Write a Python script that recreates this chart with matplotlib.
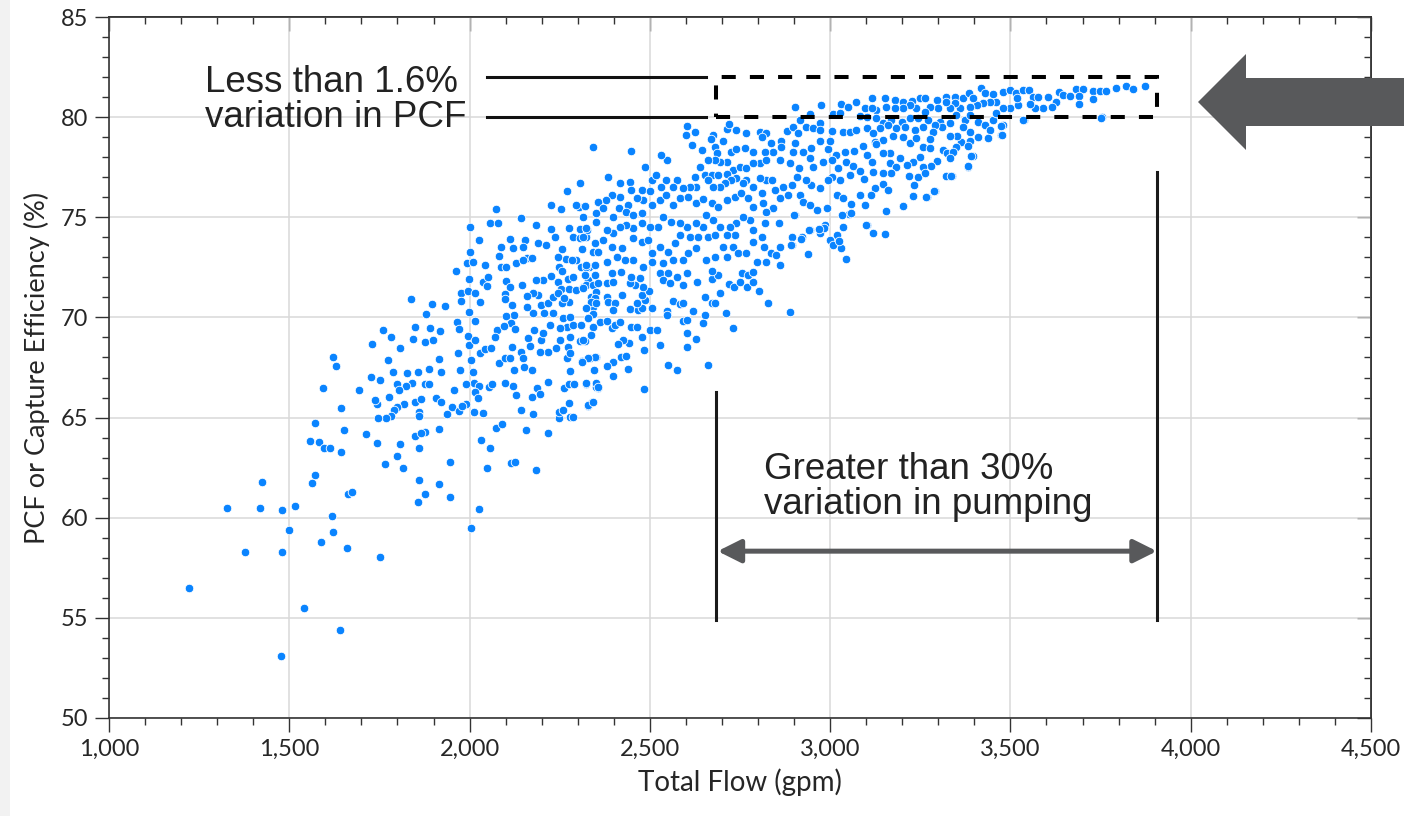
import matplotlib
matplotlib.use('Agg')
import matplotlib.pyplot as plt
from matplotlib.ticker import MultipleLocator, FuncFormatter, NullFormatter
from matplotlib.patches import Rectangle, Polygon, FancyArrowPatch


# scatter points (total flow in gpm, PCF in %)

#low left tail
flow_a = [1222, 1326, 1420, 1424, 1481, 1517, 1378, 1480, 1498, 1540, 1640, 1478, 1619, 1621, 1588,
          1661, 1751, 2003, 2027, 1571, 1562, 1663, 1673, 1557, 1583, 1596, 1612, 1644, 1653, 1571,
          1594, 1643, 1694, 1714, 1742, 1766, 1800, 1814, 1807, 1859, 1877, 1856, 1860, 1849, 1876,
          1864, 1915, 1915, 1946, 1946, 2032, 2057, 2048, 2074, 2089, 2115, 2127, 2157, 2185, 2217,
          2176, 2143, 2248, 2248, 2259, 2278, 2287, 2277, 2328, 2340, 2186, 2195, 2173, 2130, 2121,
          2097, 2053, 2062, 2013, 2027, 2016, 2024, 2038, 2013, 1989, 1991, 1957, 1950, 1938, 1970,
          1979, 1907, 1920, 1840, 1824, 1800, 1803, 1818, 1800, 1790, 1782, 1767, 1746, 1777, 1742,
          1738, 1849, 1864, 1860, 1860, 1877, 1888, 2218, 2261, 2276, 2291, 2322, 2351, 2356]
pcf_a = [56.5, 60.5, 60.5, 61.8, 60.4, 60.6, 58.3, 58.3, 59.4, 55.5, 54.4, 53.1, 60.1, 59.3, 58.8,
         58.5, 58.05, 59.5, 60.45, 62.15, 61.75, 61.2, 61.3, 63.85, 63.8, 63.5, 63.5, 63.3, 64.4, 64.75,
         66.5, 65.5, 66.4, 64.2, 63.75, 62.7, 63.1, 62.5, 63.7, 61.9, 61.2, 60.8, 63.5, 64.1, 64.3,
         64.25, 64.45, 61.7, 61.05, 62.8, 63.9, 63.5, 62.5, 64.5, 64.7, 62.75, 62.8, 64.4, 62.4, 64.25,
         65.2, 65.4, 65.0, 65.3, 65.4, 65.05, 65.05, 65.75, 65.6, 65.8, 66.5, 66.2, 66.05, 66.15, 66.6,
         66.75, 66.55, 66.7, 66.75, 66.6, 66.3, 66.0, 65.25, 65.3, 66.7, 65.7, 66.4, 65.55, 65.2, 65.35,
         65.6, 66.0, 65.8, 66.75, 66.6, 66.7, 66.4, 65.7, 65.55, 65.4, 65.1, 65.0, 65.0, 66.05, 65.7,
         65.9, 65.8, 65.95, 65.3, 65.1, 66.7, 66.7, 66.8, 66.5, 66.7, 66.7, 66.7, 66.7, 66.5]

#middle left
flow_b = [1622, 1629, 1729, 1759, 1783, 1775, 1728, 1751, 1788, 1808, 1826, 1858, 1837, 1843, 1849,
          1876, 1880, 1896, 1899, 1890, 1919, 1931, 1916, 1887, 1921, 1962, 1966, 1970, 1969, 1973,
          1997, 1999, 2003, 2010, 1975, 1975, 1995, 1998, 2015, 2016, 2029, 2043, 2059, 1993, 2010,
          2000, 2001, 2027, 1999, 2016, 2028, 2036, 2043, 2051, 2049, 2058, 2079, 2074, 2083, 2088,
          2100, 2087, 2113, 2121, 2130, 2102, 2112, 2099, 2099, 2118, 2124, 2101, 2114, 2125, 2075,
          2070, 2082, 2098, 2112, 2124, 2117, 2142, 2148, 2151, 2162, 2167, 2144, 2154, 2147, 2160,
          2173, 2185, 2191, 2211, 2227, 2236, 2225, 2253, 2269, 2306, 2304, 2275, 2306, 2322, 2287,
          2255, 2267, 2246, 2248, 2256, 2227, 2246, 2253, 2273, 2276, 2295, 2315, 2275, 2255, 2204,
          2185, 2190, 2176, 2199, 2218, 2232, 2232, 2207, 2176, 2158, 2145, 2158, 2148, 2259, 2278,
          2270, 2250, 2278, 2287, 2310, 2329, 2343, 2319, 2306, 2273, 2252, 2241, 2218, 2199, 2195,
          2269, 2278, 2313, 2333, 2352, 2278, 2173, 2204, 2179, 2222, 2343, 2338, 2329, 2330, 2356,
          2347, 2343, 2356, 2350, 2315, 2326, 2341, 2296, 2306, 2312, 2310, 2324, 2296, 2285, 2287,
          2246, 2262, 2096]
pcf_b = [68.0, 67.55, 68.66, 69.38, 69.04, 67.88, 67.05, 66.88, 67.26, 68.46, 67.21, 67.26, 70.92, 68.94, 69.54,
         68.78, 70.19, 70.69, 68.88, 69.49, 69.34, 70.57, 67.93, 67.43, 67.26, 72.34, 69.78, 69.43, 68.21, 67.38,
         69.08, 68.61, 67.88, 67.26, 71.24, 70.82, 71.34, 70.26, 69.82, 68.88, 68.21, 68.41, 68.49, 72.7, 72.79,
         73.27, 74.5, 73.87, 71.9, 71.21, 70.79, 71.79, 72.6, 72.04, 71.57, 74.7, 74.7, 75.42, 73.07, 72.54,
         72.54, 73.54, 73.9, 73.45, 72.7, 71.84, 71.54, 71.17, 70.91, 70.62, 70.12, 70.09, 69.71, 69.43, 69.38,
         69.01, 67.71, 67.96, 67.96, 67.38, 68.54, 68.29, 67.96, 67.54, 68.96, 68.59, 74.95, 73.87, 73.54, 72.99,
         72.99, 74.6, 73.73, 73.62, 74.4, 74.0, 75.62, 75.42, 76.31, 76.73, 75.53, 74.48, 74.4, 74.0, 74.0,
         73.4, 72.9, 73.04, 72.54, 72.34, 72.07, 71.79, 71.44, 71.94, 71.42, 71.37, 71.5, 70.79, 70.71, 71.87,
         71.87, 71.11, 71.21, 70.62, 70.71, 71.04, 70.21, 70.21, 70.21, 70.54, 71.62, 71.09, 72.87, 69.96, 70.04,
         69.54, 69.46, 69.04, 69.62, 69.62, 69.96, 69.54, 68.84, 68.84, 68.51, 68.88, 68.46, 68.29, 68.88, 68.29,
         67.96, 68.21, 67.8, 67.96, 68.04, 67.35, 67.38, 69.21, 69.38, 69.62, 70.54, 71.04, 71.87, 72.54, 73.29,
         72.62, 73.29, 75.78, 75.2, 75.03, 74.37, 78.53, 75.62, 73.95, 73.4, 72.54, 72.54, 72.87, 72.87, 72.04,
         71.21, 70.96, 69.57]

#dense middle (2,300 - 3,100 gpm, above 72%)
flow_c = [2902, 2975, 3031, 3050, 3073, 3096, 2944, 3008, 3027, 3084, 3101, 2604, 2624, 2600, 2713,
          2719, 2740, 2768, 2676, 2669, 2703, 2616, 2644, 2680, 2685, 2725, 2740, 2763, 2786, 2805,
          2823, 2810, 2837, 2865, 2879, 2897, 2916, 2911, 2934, 2953, 2971, 2971, 3004, 3036, 3054,
          3073, 3101, 3091, 3066, 3041, 3017, 2994, 2971, 2999, 2948, 2925, 2897, 2902, 2865, 2842,
          2819, 2860, 2888, 2914, 2944, 2953, 2981, 3004, 3022, 3045, 3064, 3082, 3101, 3054, 3094,
          3027, 3004, 2994, 2971, 2948, 2934, 2907, 2893, 2870, 2847, 2823, 2805, 2840, 2786, 2810,
          2768, 2759, 2740, 2731, 2751, 2768, 2805, 2823, 2786, 2713, 2694, 2680, 2662, 2639, 2652,
          2671, 2689, 2713, 2726, 2708, 2694, 2676, 2662, 2625, 2629, 2611, 2592, 2574, 2565, 2546,
          2532, 2505, 2517, 2548, 2531, 2486, 2447, 2385, 2417, 2446, 2449, 2477, 2500, 2482, 2463,
          2440, 2417, 2394, 2378, 2357, 2320, 2371, 2398, 2415, 2435, 2454, 2477, 2505, 2528, 2546,
          2565, 2583, 2606, 2629, 2648, 2671, 2689, 2713, 2736, 2754, 2773, 2786, 2814, 2842, 2823,
          2860, 2883, 2916, 2925, 2944, 2964, 2990, 3018, 3036, 3059, 3053, 3082, 3096, 3102, 3036,
          2985, 2971, 2944, 2923, 2895, 2895, 2860, 2837, 2851, 2816, 2786, 2810, 2786, 2859, 2902,
          2819, 2777, 2759, 2740, 2722, 2736, 2713, 2694, 2676, 2657, 2648, 2629, 2602, 2583, 2560,
          2537, 2523, 2500, 2477, 2454, 2435, 2417, 2398, 2380, 2352, 2324, 2315, 2348, 2371, 2394,
          2422, 2454, 2477, 2495, 2505, 2528, 2551, 2569, 2583, 2611, 2634, 2662, 2680, 2703, 2731,
          2745, 2768, 2796, 2823, 2860, 2939, 3045, 3018, 2999, 2629, 2606, 2592, 2565, 2537, 2505,
          2482, 2454, 2431, 2408, 2380, 2357, 2324, 2680, 2713, 2657]
pcf_c = [80.49, 80.61, 80.64, 80.52, 80.74, 80.44, 80.14, 80.14, 80.19, 80.06, 80.03, 79.56, 79.28, 79.11, 79.39,
         79.66, 79.36, 79.23, 79.11, 78.89, 78.83, 78.61, 78.36, 78.49, 78.23, 78.28, 78.41, 78.44, 78.28, 79.28,
         79.23, 79.03, 78.69, 78.83, 79.31, 79.53, 79.86, 79.23, 79.53, 79.44, 79.69, 79.36, 79.31, 79.28, 79.28,
         79.36, 79.44, 78.56, 78.33, 78.28, 78.11, 78.39, 78.81, 78.83, 78.44, 78.28, 78.28, 78.69, 78.53, 78.28,
         78.28, 77.86, 77.73, 77.45, 77.94, 77.53, 77.78, 77.86, 77.45, 77.78, 77.56, 77.33, 78.11, 77.11, 76.93,
         76.86, 77.03, 76.86, 76.45, 76.61, 76.86, 77.03, 76.61, 76.53, 76.36, 76.86, 76.95, 76.86, 76.53, 76.2,
         76.86, 76.7, 76.95, 77.36, 77.5, 77.45, 77.7, 77.86, 77.7, 77.78, 77.78, 77.86, 77.86, 77.53, 77.11,
         77.11, 77.11, 77.15, 76.86, 76.7, 76.5, 76.5, 76.86, 77.03, 76.53, 76.53, 76.45, 76.86, 76.53, 76.86,
         76.53, 76.86, 77.11, 77.86, 78.11, 77.53, 78.33, 77.03, 76.7, 76.78, 76.36, 76.36, 76.31, 75.86, 75.95,
         75.61, 76.03, 76.11, 75.86, 75.78, 75.56, 75.45, 75.03, 75.48, 75.28, 75.12, 75.2, 75.61, 75.86, 76.11,
         75.61, 75.95, 76.03, 75.7, 75.9, 75.7, 75.53, 75.86, 76.03, 76.2, 75.95, 75.53, 75.7, 75.45, 75.28,
         75.95, 76.11, 76.11, 75.78, 75.61, 75.36, 75.45, 76.11, 75.95, 75.67, 75.16, 76.11, 75.61, 74.62, 74.53,
         74.62, 74.2, 74.37, 74.0, 74.03, 73.62, 73.53, 73.2, 73.12, 73.53, 73.78, 74.03, 74.37, 74.7, 75.11,
         74.7, 74.87, 75.03, 74.7, 74.53, 74.12, 74.12, 74.53, 74.87, 75.12, 74.53, 74.7, 74.53, 74.7, 74.78,
         75.03, 74.53, 74.53, 74.7, 74.45, 74.62, 74.53, 74.2, 74.37, 74.78, 74.45, 74.03, 73.7, 73.87, 73.53,
         73.45, 73.95, 73.78, 73.87, 73.2, 73.53, 73.28, 73.7, 74.12, 74.03, 74.03, 74.03, 74.12, 73.53, 73.53,
         73.2, 73.2, 72.79, 72.79, 72.62, 73.17, 72.9, 74.12, 73.87, 73.45, 73.2, 72.87, 72.87, 72.7, 72.79,
         72.54, 72.87, 72.87, 73.04, 72.79, 73.28, 72.62, 73.04, 73.04, 72.87]

#upper right plateau (above 3,100 gpm)
flow_d = [3115, 3152, 3179, 3202, 3226, 3249, 3262, 3295, 3321, 3346, 3369, 3385, 3417, 3429, 3452,
          3480, 3498, 3515, 3535, 3552, 3563, 3577, 3604, 3635, 3646, 3664, 3683, 3700, 3729, 3748,
          3766, 3792, 3820, 3840, 3872, 3729, 3690, 3690, 3626, 3614, 3590, 3567, 3554, 3521, 3498,
          3480, 3461, 3443, 3424, 3406, 3387, 3396, 3359, 3346, 3332, 3321, 3299, 3276, 3262, 3239,
          3221, 3202, 3179, 3154, 3128, 3115, 3127, 3147, 3170, 3198, 3221, 3244, 3272, 3304, 3332,
          3350, 3373, 3387, 3410, 3429, 3452, 3480, 3475, 3443, 3438, 3410, 3387, 3369, 3387, 3364,
          3350, 3352, 3332, 3309, 3290, 3286, 3258, 3235, 3207, 3184, 3161, 3138, 3119, 3124, 3147,
          3173, 3202, 3221, 3239, 3258, 3276, 3276, 3313, 3323, 3341, 3383, 3395, 3332, 3295, 3281,
          3258, 3249, 3230, 3212, 3193, 3165, 3147, 3128, 3115, 3165, 3184, 3170, 3147, 3119, 3147,
          3124, 3161, 3112, 3219, 3244, 3262, 3323, 3339, 3383, 3232, 3290, 3230, 3269, 3202, 3156,
          3119, 3152, 3537, 3461, 3517, 3754, 3752, 3534, 3474, 3476, 3382, 3391, 3322, 3336, 3287,
          3267, 3230, 3203, 3100, 3058, 3033, 3031, 3007, 3024, 2983, 2968, 2941, 2891, 2899, 2920]
pcf_d = [80.94, 80.94, 80.86, 80.74, 80.81, 80.94, 80.94, 80.86, 81.02, 81.02, 80.97, 81.19, 81.47, 81.19, 81.14,
         81.24, 81.35, 81.19, 81.35, 81.35, 81.02, 81.02, 81.02, 81.24, 81.1, 81.07, 81.41, 81.41, 81.3, 81.3,
         81.3, 81.44, 81.57, 81.41, 81.57, 80.89, 81.06, 80.64, 80.77, 80.52, 80.44, 80.47, 80.64, 80.6, 80.44,
         80.47, 80.77, 80.77, 80.69, 80.6, 80.52, 80.94, 80.47, 80.69, 80.44, 80.77, 80.44, 80.52, 80.27, 80.44,
         80.6, 80.44, 80.47, 80.52, 80.36, 80.44, 79.94, 79.69, 79.86, 79.77, 79.94, 79.94, 79.86, 79.77, 79.69,
         80.1, 79.86, 80.1, 79.74, 79.61, 79.86, 79.61, 79.11, 79.36, 78.94, 79.03, 79.28, 79.52, 78.81, 78.78,
         78.53, 79.08, 79.08, 79.52, 79.61, 79.28, 79.52, 79.36, 79.52, 79.44, 79.61, 79.44, 79.19, 78.74, 78.86,
         79.08, 79.03, 78.69, 78.94, 78.53, 78.44, 78.91, 78.36, 78.19, 78.24, 78.58, 78.08, 77.94, 77.81, 77.58,
         77.53, 78.03, 77.78, 77.61, 77.94, 78.19, 78.19, 78.64, 77.78, 77.69, 77.53, 77.2, 77.2, 77.28, 76.65,
         76.45, 76.36, 76.11, 77.08, 77.03, 77.2, 77.08, 77.08, 77.53, 76.61, 76.31, 76.08, 76.0, 75.58, 75.31,
         74.2, 74.15, 79.86, 80.19, 80.94, 80.0, 79.94, 79.86, 79.58, 79.11, 77.56, 78.06, 77.06, 77.06, 76.33,
         76.0, 76.06, 75.56, 74.62, 75.2, 75.12, 73.45, 73.62, 73.84, 74.45, 74.4, 74.37, 73.62, 75.12, 73.9]

#lower middle (2,300 - 2,900 gpm, below 72.4%)
flow_e = [2320, 2348, 2394, 2324, 2343, 2357, 2380, 2398, 2315, 2352, 2380, 2348, 2338, 2352, 2385,
          2403, 2324, 2398, 2343, 2329, 2361, 2380, 2394, 2403, 2417, 2343, 2338, 2315, 2424, 2445,
          2468, 2477, 2463, 2486, 2477, 2498, 2482, 2458, 2445, 2472, 2449, 2421, 2507, 2447, 2463,
          2477, 2500, 2520, 2528, 2484, 2443, 2426, 2412, 2421, 2435, 2398, 2380, 2348, 2329, 2313,
          2345, 2398, 2438, 2323, 2352, 2484, 2329, 2341, 2528, 2551, 2537, 2555, 2574, 2592, 2602,
          2631, 2563, 2583, 2592, 2548, 2548, 2591, 2604, 2620, 2654, 2648, 2604, 2629, 2602, 2551,
          2576, 2660, 2653, 2671, 2680, 2694, 2710, 2731, 2671, 2689, 2671, 2720, 2734, 2750, 2770,
          2786, 2802, 2828, 2888, 2756, 2773, 2785, 2350, 2357]
pcf_e = [72.12, 72.12, 72.2, 71.62, 71.62, 71.7, 71.7, 71.79, 71.45, 71.29, 71.04, 70.95, 70.79, 70.7, 70.79,
         70.7, 70.45, 70.37, 70.15, 69.95, 69.79, 69.84, 69.46, 69.62, 69.76, 69.54, 69.12, 68.87, 71.12, 70.4,
         70.37, 70.45, 70.7, 70.87, 71.12, 71.34, 71.5, 71.62, 71.74, 71.95, 72.03, 72.28, 70.45, 69.5, 69.54,
         69.04, 69.37, 69.37, 68.62, 68.37, 68.74, 68.87, 68.67, 68.01, 68.07, 67.79, 67.58, 68.01, 67.96, 67.79,
         67.38, 67.08, 67.43, 66.71, 66.54, 66.43, 65.63, 65.8, 72.2, 72.2, 71.87, 71.7, 72.04, 71.62, 72.2,
         71.79, 70.84, 70.65, 70.7, 70.34, 70.12, 69.84, 69.87, 70.32, 70.12, 69.71, 69.24, 68.91, 68.51, 67.63,
         67.38, 67.63, 71.04, 70.74, 70.7, 71.2, 70.24, 69.49, 71.9, 72.12, 72.33, 71.67, 71.5, 71.79, 71.54,
         71.79, 71.34, 70.7, 70.27, 72.2, 72.12, 72.28, 66.74, 66.54]

flow = flow_a + flow_b + flow_c + flow_d + flow_e
pcf = pcf_a + pcf_b + pcf_c + pcf_d + pcf_e

x_ticks = [1000, 1500, 2000, 2500, 3000, 3500, 4000, 4500]
y_ticks = [50, 55, 60, 65, 70, 75, 80, 85]

# annotation anchors (data units)
box_x0, box_x1 = 2683, 3906
box_y0, box_y1 = 80.0, 82.0
lead_x0, lead_x1 = 2048, 2656
span_y = 58.33

W, H = 1404, 816
fig = plt.figure(figsize=(W / 100, H / 100), dpi=100)
fig.patches.append(Rectangle((0, 0), 10 / W, 1, transform=fig.transFigure,
                             facecolor='#f2f2f2', edgecolor='none', zorder=0))
ax = fig.add_axes([109 / W, 1 - 718 / H, (1371 - 109) / W, (718 - 17) / H])

tick_font = ['Lato', 'DejaVu Sans']
note_font = ['Liberation Sans', 'DejaVu Sans']

ax.scatter(flow, pcf, s=38, c='#0a84ff', edgecolors='white', linewidths=0.6, zorder=3)

ax.set_xlim(1000, 4500)
ax.set_ylim(50, 85)
ax.xaxis.set_major_locator(MultipleLocator(500))
ax.xaxis.set_minor_locator(MultipleLocator(100))
ax.yaxis.set_major_locator(MultipleLocator(5))
ax.yaxis.set_minor_locator(MultipleLocator(1))
ax.set_xticks(x_ticks)
ax.set_yticks(y_ticks)
ax.xaxis.set_major_formatter(FuncFormatter(lambda v, p: f'{v:,.0f}'))
ax.grid(True, which='major', color='#d9d9d9', linewidth=1.1, zorder=0)
ax.set_axisbelow(True)

ax.tick_params(which='major', direction='out', length=10, width=1.0, color='#333333',
               labelsize=17, labelcolor='#262626', pad=5)
ax.tick_params(which='minor', direction='out', length=5, width=1.0, color='#333333')
for lab in ax.get_xticklabels() + ax.get_yticklabels():
    lab.set_family(tick_font)
for sp in ax.spines.values():
    sp.set_color('#333333')
    sp.set_linewidth(1.2)

# inward ticks on top and right
secx = ax.secondary_xaxis('top')
secx.xaxis.set_major_locator(MultipleLocator(500))
secx.xaxis.set_minor_locator(MultipleLocator(100))
secx.xaxis.set_major_formatter(NullFormatter())
secx.tick_params(which='major', direction='in', length=10, width=1.0, color='#333333')
secx.tick_params(which='minor', direction='in', length=5, width=1.0, color='#333333')
secy = ax.secondary_yaxis('right')
secy.yaxis.set_major_locator(MultipleLocator(5))
secy.yaxis.set_minor_locator(MultipleLocator(1))
secy.yaxis.set_major_formatter(NullFormatter())
secy.tick_params(which='major', direction='in', length=10, width=1.0, color='#333333')
secy.tick_params(which='minor', direction='in', length=5, width=1.0, color='#333333')
for s in (secx, secy):
    for sp in s.spines.values():
        sp.set_color('#333333')
        sp.set_linewidth(1.2)

ax.set_xlabel('Total Flow (gpm)', fontsize=20, family=tick_font, color='#262626', labelpad=6)
ax.set_ylabel('PCF or Capture Efficiency (%)', fontsize=19.5, family=tick_font, color='#262626', labelpad=8)

# PCF band annotation
ax.add_patch(Rectangle((box_x0, box_y0), box_x1 - box_x0, box_y1 - box_y0, fill=False,
                       edgecolor='black', linewidth=2.9, linestyle=(0, (3.5, 3.5)), zorder=5))
ax.plot([lead_x0, lead_x1], [box_y1, box_y1], color='#111111', linewidth=2.2, zorder=5)
ax.plot([lead_x0, lead_x1], [box_y0, box_y0], color='#111111', linewidth=2.2, zorder=5)
ax.text(1266, 80.85, 'Less than 1.6%\nvariation in PCF', fontsize=26.5, family=note_font,
        color='#222222', ha='left', va='center', linespacing=1.0, zorder=6)

# pumping span annotation
ax.plot([box_x0, box_x0], [54.9, 66.3], color='#1a1a1a', linewidth=2.2, zorder=5)
ax.plot([box_x1, box_x1], [54.9, 77.26], color='#1a1a1a', linewidth=2.2, zorder=5)
ax.add_patch(FancyArrowPatch((box_x0 + 5, span_y), (box_x1, span_y),
                             arrowstyle='<|-|>,head_length=1.0,head_width=0.5', mutation_scale=14,
                             color='#58595b', linewidth=3.6, shrinkA=0, shrinkB=0, zorder=5))
ax.text(2816, 61.55, 'Greater than 30%\nvariation in pumping', fontsize=26.5, family=note_font,
        color='#222222', ha='left', va='center', linespacing=1.0, zorder=6)

# big pointer arrow at the right edge (figure pixels)
arrow_px = [(1198, 102), (1246, 54), (1246, 78), (1420, 78), (1420, 126), (1246, 126), (1246, 150)]
fig.patches.append(Polygon([(px / W, 1 - py / H) for px, py in arrow_px], closed=True,
                           transform=fig.transFigure, facecolor='#58595b', edgecolor='none', zorder=10))

fig.savefig('out.png', dpi=100)
